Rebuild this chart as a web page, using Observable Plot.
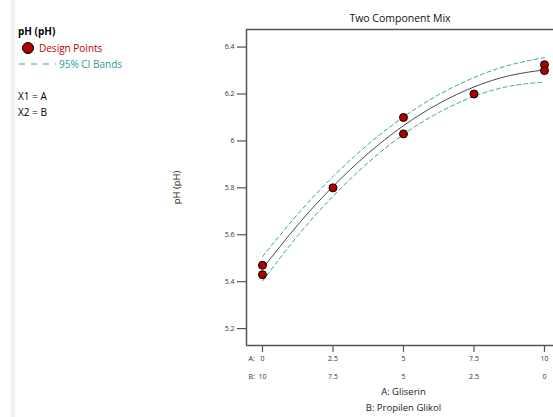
<!DOCTYPE html>
<html><head><meta charset="utf-8">
<script src="https://cdn.jsdelivr.net/npm/d3@7"></script>
<script src="https://cdn.jsdelivr.net/npm/@observablehq/plot@0.6"></script>
<style>
body{margin:0;background:#fff;font-family:"Open Sans",sans-serif;}
#wrap{position:relative;width:553px;height:417px;overflow:hidden;background:#fff;}
#strip{position:absolute;left:11px;top:0;width:4px;height:417px;background:#f1f1f1;}
#chart{position:absolute;left:0;top:0;}
.lg{position:absolute;font-size:10px;white-space:nowrap;line-height:12px;}
</style></head><body>
<div id="wrap">
<div id="strip"></div>
<div id="chart"></div>
<div class="lg" style="left:18px;top:25px;font-weight:bold;color:#000">pH (pH)</div>
<svg style="position:absolute;left:0;top:0" width="120" height="80">
  <circle cx="28" cy="48" r="5.5" fill="#b00000" stroke="#000" stroke-width="1"/>
  <line x1="19" x2="56" y1="64" y2="64" stroke="#3aa5a8" stroke-width="1" stroke-dasharray="6,6"/>
</svg>
<div class="lg" style="left:39px;top:42px;color:#c00000">Design Points</div>
<div class="lg" style="left:59px;top:58px;color:#2a9d9d">95% CI Bands</div>
<div class="lg" style="left:18px;top:90px;color:#000">X1 = A</div>
<div class="lg" style="left:18px;top:106px;color:#000">X2 = B</div>
</div>
<script>
// Design points: A (Gliserin) level and measured pH
const pointsA = [0, 0, 2.5, 5, 5, 7.5, 10, 10];
const pointsPH = [5.47, 5.43, 5.80, 6.10, 6.03, 6.20, 6.325, 6.30];
// Fitted curve and 95% CI bands
const fitA = [0, 1.25, 2.5, 3.75, 5, 6.25, 7.5, 8.75, 10];
const fitPH = [5.455, 5.642, 5.806, 5.947, 6.065, 6.159, 6.230, 6.278, 6.303];
const upperPH = [5.507, 5.688, 5.848, 5.986, 6.102, 6.197, 6.270, 6.323, 6.355];
const lowerPH = [5.403, 5.596, 5.764, 5.908, 6.028, 6.121, 6.190, 6.233, 6.251];
// Ticks
const yTicks = [5.2, 5.4, 5.6, 5.8, 6.0, 6.2, 6.4];
const yTickLabels = ["5.2", "5.4", "5.6", "5.8", "6", "6.2", "6.4"];
const aTicks = [0, 2.5, 5, 7.5, 10];
const aTickLabels = ["0", "2.5", "5", "7.5", "10"];
const bTickLabels = ["10", "7.5", "5", "2.5", "0"];
const title = "Two Component Mix";
const yLabel = "pH (pH)";
const xLabelA = "A: Gliserin";
const xLabelB = "B: Propilen Glikol";

const xDomain = [-0.567, 10.32];
const yDomain = [5.128, 6.475];

const pts = pointsA.map((a, i) => ({a, ph: pointsPH[i]}));
const fit = fitA.map((a, i) => ({a, fit: fitPH[i], up: upperPH[i], lo: lowerPH[i]}));

const axisColor = "#555";
const font = "Open Sans";

const chart = Plot.plot({
  width: 553, height: 417,
  marginLeft: 246, marginTop: 29, marginBottom: 72, marginRight: 0,
  style: {fontFamily: font, background: "transparent", overflow: "visible"},
  x: {domain: xDomain},
  y: {domain: yDomain},
  marks: [
    Plot.ruleX([xDomain[0]], {stroke: axisColor, strokeWidth: 1.5}),
    Plot.ruleY([yDomain[0], yDomain[1]], {stroke: axisColor, strokeWidth: 1.5}),
    Plot.line(fit, {x: "a", y: "up", curve: "natural", stroke: "#3aa5a8", strokeWidth: 1, strokeDasharray: "4,3"}),
    Plot.line(fit, {x: "a", y: "lo", curve: "natural", stroke: "#3aa5a8", strokeWidth: 1, strokeDasharray: "4,3"}),
    Plot.line(fit, {x: "a", y: "fit", curve: "natural", stroke: "#4a4a4a", strokeWidth: 1}),
    Plot.dot(pts, {x: "a", y: "ph", r: 4, fill: "#b00000", stroke: "#000", strokeWidth: 1}),
    Plot.axisY({ticks: yTicks, tickFormat: (d, i) => yTickLabels[i], tickSize: 9, tickPadding: 3,
      fontSize: 7, stroke: axisColor, strokeWidth: 1.2, color: "#333", label: null}),
    Plot.axisY({ticks: [], fontSize: 9.5, color: "#222",
      label: yLabel, labelAnchor: "center", labelOffset: 73, labelArrow: "none"}),
    Plot.axisX({ticks: aTicks, tickFormat: (d, i) => aTickLabels[i], tickSize: 7, tickPadding: 4,
      fontSize: 7, stroke: axisColor, strokeWidth: 1.2, color: "#333", label: null}),
    Plot.axisX({ticks: aTicks, tickFormat: (d, i) => bTickLabels[i], tickSize: 0, tickPadding: 29,
      fontSize: 7, color: "#333", label: null}),
    Plot.text(["A:"], {frameAnchor: "bottom-left", dx: 2, dy: 15, fontSize: 7, fill: "#333", textAnchor: "start"}),
    Plot.text(["B:"], {frameAnchor: "bottom-left", dx: 2, dy: 33, fontSize: 7, fill: "#333", textAnchor: "start"}),
    Plot.text([xLabelA], {x: () => 5, frameAnchor: "bottom", dy: 49, fontSize: 9.5, fill: "#222"}),
    Plot.text([xLabelB], {x: () => 5, frameAnchor: "bottom", dy: 65, fontSize: 9.5, fill: "#222"}),
    Plot.text([title], {frameAnchor: "top", dy: -15, fontSize: 10.5, fill: "#111"})
  ]
});
document.getElementById("chart").appendChild(chart);
</script>
</body></html>
